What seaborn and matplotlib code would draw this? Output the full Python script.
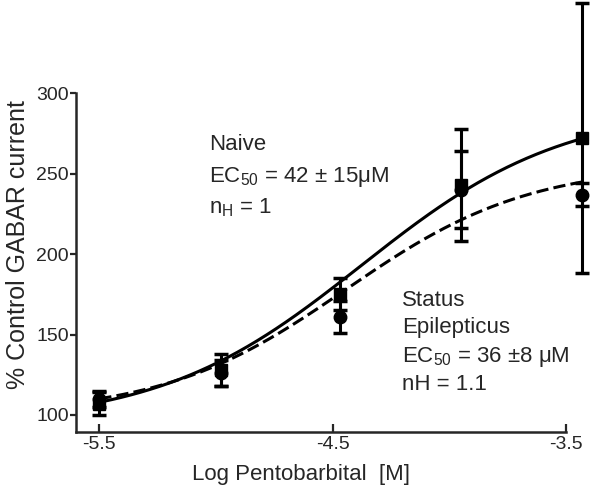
import numpy as np
import pandas as pd
import seaborn as sns
import matplotlib.pyplot as plt

# measured points (log molar concentration)
log_conc = [-5.5, -4.98, -4.47, -3.95, -3.43]
naive_mean = [107, 128, 175, 243, 272]
naive_err = [7, 10, 10, 35, 84]
se_mean = [110, 126, 161, 240, 237]
se_err = [5, 8, 10, 24, 7]

# Hill fit parameters
naive_fit = dict(bottom=94, top=292, log_ec50=np.log10(42e-6), nh=1.0)
se_fit = dict(bottom=100, top=256, log_ec50=np.log10(36e-6), nh=1.1)

x_ticks = [-5.5, -4.5, -3.5]
y_ticks = [100, 150, 200, 250, 300]


def hill(x, bottom, top, log_ec50, nh):
    return bottom + (top - bottom) / (1 + 10 ** ((log_ec50 - x) * nh))


sns.set_style("ticks")
plt.rcParams['font.family'] = ['Liberation Sans', 'DejaVu Sans']
plt.rcParams['mathtext.default'] = 'regular'

fig = plt.figure(figsize=(6, 4.96), dpi=100)
ax = fig.add_axes([76 / 600, 64 / 496, 518 / 600, 432 / 496])

xs = np.linspace(log_conc[0], log_conc[-1], 200)
curves = pd.DataFrame({
    "x": np.concatenate([xs, xs]),
    "y": np.concatenate([hill(xs, **naive_fit), hill(xs, **se_fit)]),
    "group": ["Naive"] * len(xs) + ["SE"] * len(xs),
})
sns.lineplot(data=curves, x="x", y="y", style="group",
             dashes={"Naive": "", "SE": (4, 1.7)}, color="black",
             linewidth=2.2, legend=False, ax=ax)

ax.errorbar(log_conc, se_mean, yerr=se_err, fmt="o", color="black",
            markersize=9, elinewidth=2.2, capsize=5, capthick=2.5,
            clip_on=False, zorder=3)
ax.errorbar(log_conc, naive_mean, yerr=naive_err, fmt="s", color="black",
            markersize=8.5, elinewidth=2.2, capsize=5, capthick=2.5,
            clip_on=False, zorder=4)

ax.set_xlim(-5.6, -3.38)
ax.set_ylim(89.4, 358)
ax.set_xticks(x_ticks)
ax.set_xticklabels(["-5.5", "-4.5", "-3.5"])
ax.set_yticks(y_ticks)
ax.tick_params(axis="x", direction="in", length=6, width=1.6, pad=3, labelsize=14)
ax.tick_params(axis="y", direction="out", length=4, width=1.6, pad=1, labelsize=14)

sns.despine(ax=ax)
ax.spines["left"].set_bounds(89.4, 300)
ax.spines["bottom"].set_bounds(-5.6, -3.5)
for s in ["left", "bottom"]:
    ax.spines[s].set_linewidth(1.8)

ax.set_xlabel("Log Pentobarbital  [M]", fontsize=16)
ax.set_ylabel("% Control GABAR current", fontsize=18)
ax.xaxis.set_label_coords(0.434, -0.075)
ax.yaxis.set_label_coords(-0.088, 0.433)

fs = 16
fig.text(209 / 600, 1 - 145 / 496, "Naive", fontsize=fs, va="center")
fig.text(209 / 600, 1 - 177 / 496, r"EC$_{50}$ = 42 $\pm$ 15$\mu$M", fontsize=fs, va="center")
fig.text(209 / 600, 1 - 208 / 496, r"n$_{H}$ = 1", fontsize=fs, va="center")

fig.text(402 / 600, 1 - 300 / 496, "Status", fontsize=fs, va="center")
fig.text(402 / 600, 1 - 328 / 496, "Epilepticus", fontsize=fs, va="center")
fig.text(402 / 600, 1 - 357 / 496, r"EC$_{50}$ = 36 $\pm$8 $\mu$M", fontsize=fs, va="center")
fig.text(402 / 600, 1 - 384 / 496, "nH = 1.1", fontsize=fs, va="center")

fig.savefig("out.png", dpi=100)
